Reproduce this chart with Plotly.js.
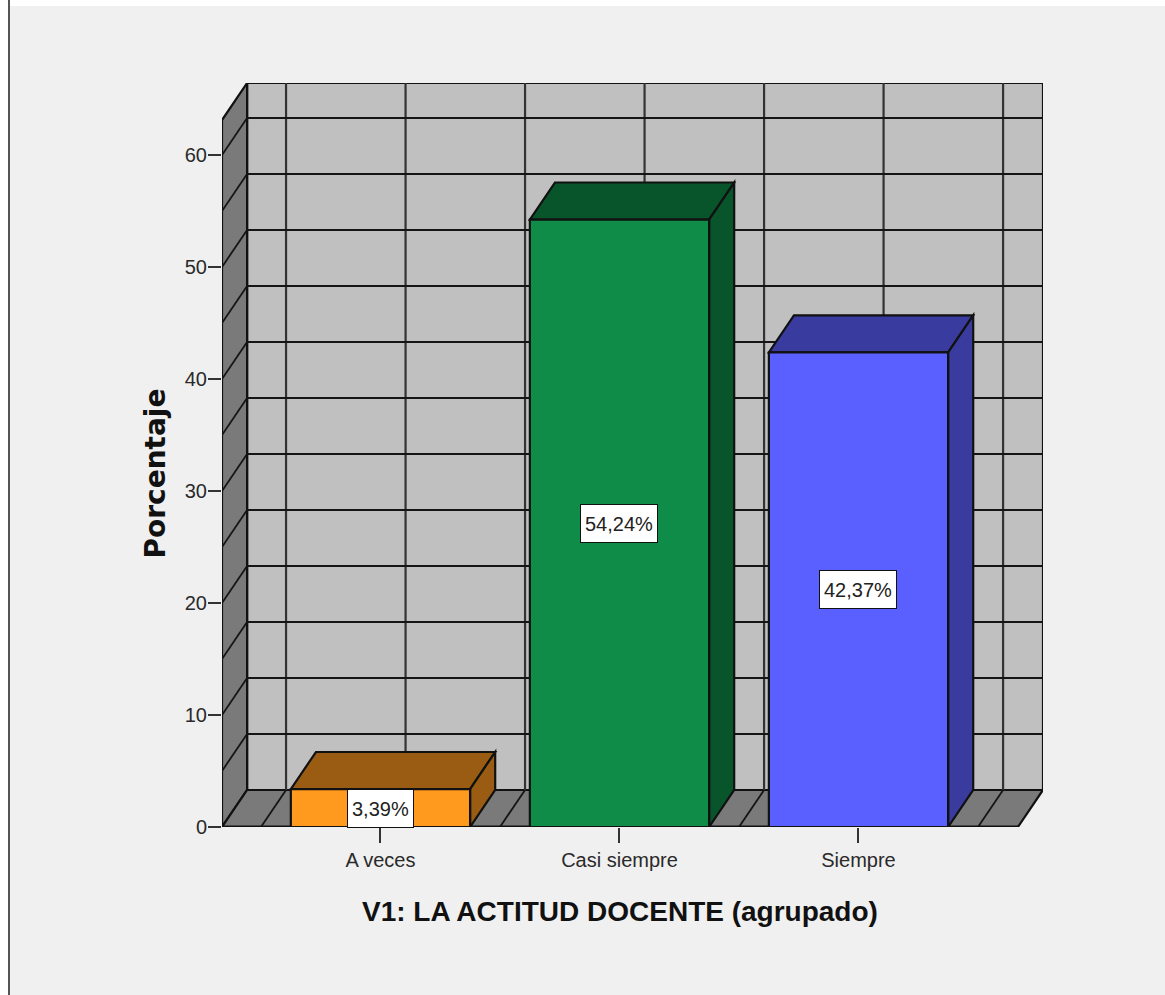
<!DOCTYPE html>
<html>
<head>
<meta charset="utf-8">
<script src="https://cdn.plot.ly/plotly-3.0.1.min.js"></script>
<style>
html,body{margin:0;padding:0;background:#fff;width:1165px;height:995px;overflow:hidden}
#frame{position:absolute;left:8px;top:6px;right:0;bottom:0;background:#f0f0f0;border-left:2px solid #555}
#topstrip{position:absolute;left:8px;top:0;width:2px;height:6px;background:#555}
#chart{position:absolute;left:0;top:0;width:1165px;height:995px}
</style>
</head>
<body>
<div id="topstrip"></div>
<div id="frame"></div>
<div id="chart"></div>
<script>
const categories = ["A veces", "Casi siempre", "Siempre"];
const percentages = [3.39, 54.24, 42.37];
const frontColors = ["#FF9A1E", "#0F8C48", "#5A60FF"];
const darkColors = ["#995C12", "#08552B", "#393C9E"];
const yTickValues = [0, 10, 20, 30, 40, 50, 60];
const hGridValues = [5, 10, 15, 20, 25, 30, 35, 40, 45, 50, 55, 60];
const vGridPositions = [-0.5, 0, 0.5, 1, 1.5, 2, 2.5];
const xAxisTitle = "V1: LA ACTITUD DOCENTE (agrupado)";
const yAxisTitle = "Porcentaje";

const xLeft = -0.663, xFront = 2.667, xBack = 2.772;
const yFront = 63.125, yBack = 66.43;
const depthX = xBack - xFront, depthY = yBack - yFront;
const barWidth = 0.75;
const edge = "#111111";

const poly = pts => "M" + pts.map(p => p[0] + "," + p[1]).join("L") + "Z";
const shape = (pts, fill, w) => ({
  type: "path", xref: "x", yref: "y", layer: "below",
  path: poly(pts), fillcolor: fill, line: {color: edge, width: w === undefined ? 2.2 : w}
});
const seg = (x0, y0, x1, y1, color, w) => ({
  type: "line", xref: "x", yref: "y", layer: "below",
  x0, y0, x1, y1, line: {color: color, width: w}
});

const shapes = [];
// back wall
shapes.push(shape([[xLeft + depthX, depthY], [xBack, depthY], [xBack, yBack], [xLeft + depthX, yBack]], "#C0C0C0"));
// left wall
shapes.push(shape([[xLeft, 0], [xLeft + depthX, depthY], [xLeft + depthX, yBack], [xLeft, yFront]], "#7A7A7A"));
// floor
shapes.push(shape([[xLeft, 0], [xFront, 0], [xBack, depthY], [xLeft + depthX, depthY]], "#7A7A7A"));
// vertical grid on wall and its continuation on floor
vGridPositions.forEach(p => {
  shapes.push(seg(p + depthX, depthY, p + depthX, yBack, "#333333", 2.2));
  shapes.push(seg(p, 0, p + depthX, depthY, "#151515", 1.8));
});
// horizontal grid on wall and its continuation on the side wall
hGridValues.forEach(v => {
  shapes.push(seg(xLeft + depthX, v + depthY, xBack, v + depthY, "#151515", 1.8));
  shapes.push(seg(xLeft, v, xLeft + depthX, v + depthY, "#151515", 1.8));
});
// bar top and side faces
percentages.forEach((v, i) => {
  const l = i - barWidth / 2, r = i + barWidth / 2;
  shapes.push(shape([[l, v], [r, v], [r + depthX, v + depthY], [l + depthX, v + depthY]], darkColors[i]));
  shapes.push(shape([[r, 0], [r + depthX, depthY], [r + depthX, v + depthY], [r, v]], darkColors[i]));
});
// front edge of the floor
shapes.push(seg(xLeft, 0, xFront, 0, edge, 3));

const annotations = percentages.map((v, i) => ({
  xref: "x2", yref: "y2", x: i, y: v / 2,
  text: v.toFixed(2).replace(".", ",") + "%",
  showarrow: false,
  bgcolor: "#ffffff", bordercolor: "#111", borderwidth: 1, borderpad: 4, height: 29,
  font: {family: "Liberation Sans, Arial, sans-serif", size: 20, color: "#222"}
}));

const traces = [
  {type: "scatter", x: [xLeft], y: [0], xaxis: "x", yaxis: "y", mode: "none", hoverinfo: "skip", showlegend: false},
  {type: "bar", x: categories, y: percentages, xaxis: "x2", yaxis: "y2", width: barWidth,
   marker: {color: frontColors, line: {color: edge, width: 2.2}}, showlegend: false,
   hovertemplate: "%{x}: %{y}%<extra></extra>"}
];

const tickFont = {family: "Liberation Sans, Arial, sans-serif", size: 20, color: "#2a2a2a"};

const layout = {
  width: 1165, height: 995,
  margin: {l: 222, r: 122, t: 83, b: 168, pad: 0},
  paper_bgcolor: "rgba(0,0,0,0)", plot_bgcolor: "rgba(0,0,0,0)",
  showlegend: false,
  xaxis: {domain: [0, 1], range: [xLeft, xBack], visible: false, anchor: "y"},
  yaxis: {domain: [0, 1], range: [0, yBack], visible: false, anchor: "x"},
  xaxis2: {
    domain: [0, (xFront - xLeft) / (xBack - xLeft)], anchor: "y2", type: "category",
    range: [xLeft, xFront], showgrid: false, zeroline: false, showline: false,
    ticks: "outside", ticklen: 15, tickwidth: 2, tickcolor: "#333", tickfont: tickFont,
    title: {text: xAxisTitle, standoff: 31,
      font: {family: "Liberation Sans, Arial, sans-serif", size: 28, weight: 700, color: "#111"}}
  },
  yaxis2: {
    domain: [0, yFront / yBack], anchor: "x2", range: [0, yFront],
    tickvals: yTickValues, showgrid: false, zeroline: false, showline: false,
    ticks: "outside", ticklen: 13, ticklabelstandoff: -3, tickwidth: 2, tickcolor: "#333", tickfont: tickFont,
    title: {text: yAxisTitle, standoff: 10,
      font: {family: "DejaVu Sans, Verdana, sans-serif", size: 28, weight: 700, color: "#111"}}
  },
  bargap: 0.25,
  shapes, annotations
};

Plotly.newPlot("chart", traces, layout, {displayModeBar: false, responsive: false});
</script>
</body>
</html>
